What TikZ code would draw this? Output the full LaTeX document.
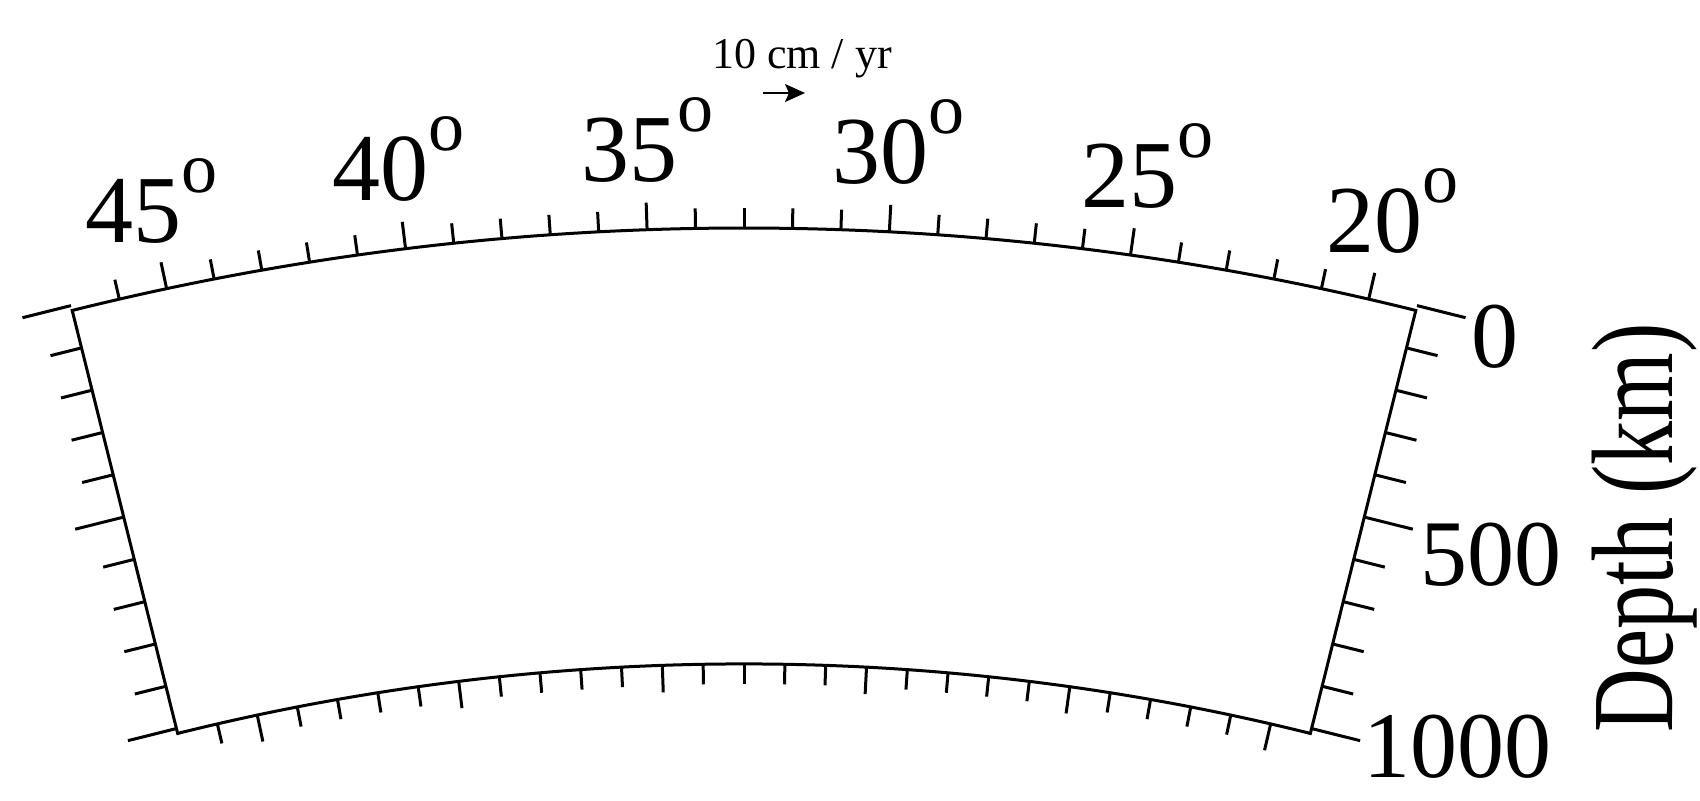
\documentclass[tikz,border=0pt]{standalone}
\usepackage{fontspec}
\setmainfont{Liberation Serif}
\usetikzlibrary{arrows.meta}
\begin{document}
\begin{tikzpicture}[x=0.5pt,y=0.5pt,
  frame/.style={line width=1.5pt, line join=miter},
  tickline/.style={line width=1.5pt},
  deglbl/.style={inner sep=0pt, font=\fontsize{48}{50}\selectfont},
  depthlbl/.style={inner sep=0pt, font=\fontsize{47}{50}\selectfont},
  axislbl/.style={inner sep=0pt, font=\fontsize{58}{60}\selectfont},
  veclbl/.style={inner sep=0pt, font=\fontsize{22}{24}\selectfont},
  vecarrow/.style={line width=1pt, -{Stealth[length=10pt,width=9pt,inset=2pt]}}
]
\useasboundingbox (0,0) rectangle (1700,800);
\coordinate (C) at (744,-2205);
\begin{scope}[shift={(C)}]
  % frame
  \draw[frame] (104:2777) coordinate (TL)
    arc[start angle=104,end angle=76,radius=2777] coordinate (TR)
    -- (76:2341.1) coordinate (BR)
    arc[start angle=76,end angle=104,radius=2341.1] coordinate (BL) -- cycle;
  % latitude ticks
  \foreach \p in {20,...,46}{
    \pgfmathsetmacro\a{\p+57}
    \pgfmathtruncatemacro\m{mod(\p,5)}
    \ifnum\m=0 \def\L{27}\else\def\L{20}\fi
    \draw[tickline] (\a:2777) -- (\a:{2777+\L});
    \draw[tickline] (\a:2341.1) -- (\a:{2341.1-\L});
  }
  % depth ticks
  \foreach \d in {0,100,...,1000}{
    \pgfmathsetmacro\r{2782-0.435881*\d}
    \pgfmathtruncatemacro\m{mod(\d,500)}
    \ifnum\m=0 \def\L{50}\else\def\L{32}\fi
    \draw[tickline] (104:\r) -- ++(194:\L);
    \draw[tickline] (76:\r) -- ++(-14:\L);
  }
  % latitude labels
  \foreach \p in {20,25,...,45}{
    \pgfmathsetmacro\a{\p+57}
    \node[deglbl, xshift=2pt] (lat\p) at (\a:2867) {\p\raisebox{25pt}{\fontsize{36}{38}\selectfont o}};
  }
\end{scope}
% depth labels
\node[depthlbl, anchor=west] (d0) at (1471,463) {0};
\node[depthlbl, anchor=west] (d500) at (1420,245) {500};
\node[depthlbl, anchor=west] (d1000) at (1363,53) {1000};
\node[axislbl, rotate=90, anchor=base] (ylab) at (1672,272) {\scalebox{0.76}[1]{Depth (km)}};
% velocity scale
\node[veclbl, anchor=base] (vlab) at (802,732) {10 cm / yr};
\coordinate (vs) at (763,707);
\coordinate (ve) at (805,707);
\draw[vecarrow] (vs) -- (ve);
\end{tikzpicture}
\end{document}
